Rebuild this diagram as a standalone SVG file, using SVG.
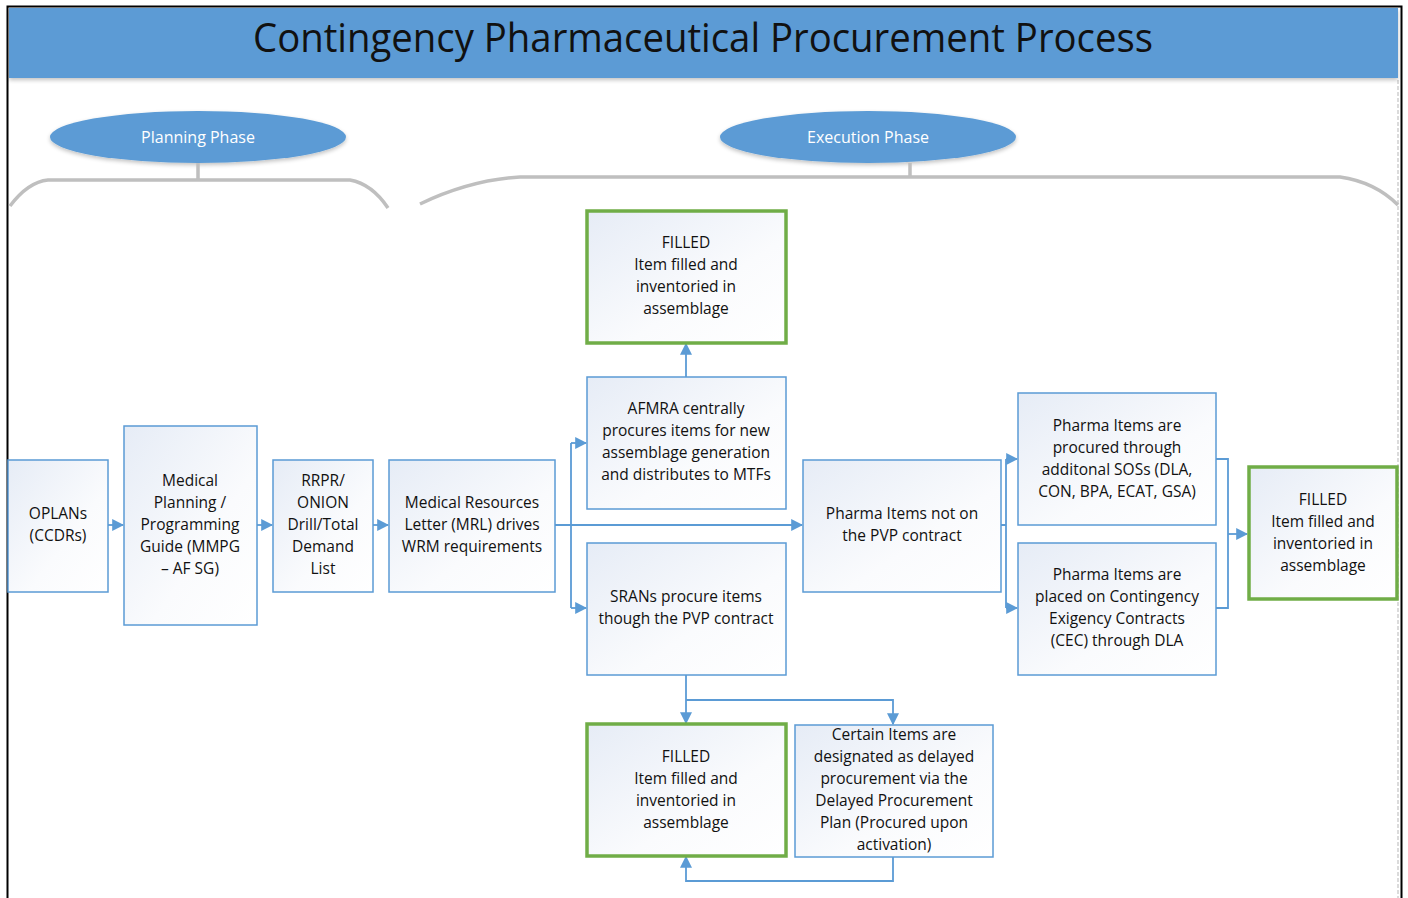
<svg xmlns="http://www.w3.org/2000/svg" width="1408" height="898" viewBox="0 0 1408 898">
<style>
text{font-family:"Open Sans","Liberation Sans",sans-serif;font-size:15.5px;fill:#111;text-anchor:middle}
.box{fill:url(#g);stroke:#5B9BD5;stroke-width:1.5}
.fill{fill:url(#g);stroke:#70AD47;stroke-width:3.5}
.c{fill:none;stroke:#5B9BD5;stroke-width:1.8}
.ca{fill:none;stroke:#5B9BD5;stroke-width:1.8;marker-end:url(#ah)}
.br{fill:none;stroke:#BFBFBF;stroke-width:3.5}
.ph{fill:#5B9BD5}
.pt{fill:#fff;font-size:16px}
</style>
<defs>
<linearGradient id="g" x1="0" y1="0" x2="1" y2="1">
<stop offset="0" stop-color="#E6ECF6"/>
<stop offset="0.6" stop-color="#FAFBFD"/>
<stop offset="1" stop-color="#FFFFFF"/>
</linearGradient>
<marker id="ah" viewBox="0 0 10 10" refX="9" refY="5" markerWidth="12" markerHeight="12" markerUnits="userSpaceOnUse" orient="auto">
<path d="M0,0 L10,5 L0,10 z" fill="#5B9BD5"/>
</marker>
<filter id="sh" x="-5%" y="-20%" width="110%" height="150%">
<feGaussianBlur in="SourceAlpha" stdDeviation="2"/>
<feOffset dy="2"/>
<feComponentTransfer><feFuncA type="linear" slope="0.25"/></feComponentTransfer>
<feMerge><feMergeNode/><feMergeNode in="SourceGraphic"/></feMerge>
</filter>
</defs>
<rect x="0" y="0" width="1408" height="898" fill="#fff"/>
<g id="frame">
<line x1="1398" y1="80" x2="1398" y2="898" stroke="#D0D0D0" stroke-width="1.5" stroke-dasharray="4,2"/>
<path d="M7.5,898 V6.5 H1401.5 V898" fill="none" stroke="#000" stroke-width="2"/>
</g>
<g id="title">
<rect x="9" y="8" width="1389" height="70" fill="#5B9BD5" filter="url(#sh)"/>
<text x="703" y="52" style="font-size:40px;fill:#111" textLength="900" lengthAdjust="spacingAndGlyphs">Contingency Pharmaceutical Procurement Process</text>
</g>
<g id="planning-phase">
<ellipse cx="198" cy="137" rx="148" ry="26" class="ph" filter="url(#sh)"/>
<text x="198" y="143" class="pt">Planning Phase</text>
<path class="br" d="M198,163 V180 M10,206 Q28,182 48,180 H350 Q372,184 388,208"/>
</g>
<g id="execution-phase">
<ellipse cx="868" cy="137" rx="148" ry="26" class="ph" filter="url(#sh)"/>
<text x="868" y="143" class="pt">Execution Phase</text>
<path class="br" d="M910,163 V177 M420,204 Q470,180 520,177 H1340 Q1375,182 1398,205"/>
</g>
<g id="connectors">
<line class="ca" x1="108" y1="525" x2="123" y2="525"/>
<line class="ca" x1="257" y1="525" x2="272" y2="525"/>
<line class="ca" x1="373" y1="525" x2="388" y2="525"/>
<path class="c" d="M555,525 H571 M571,443 V608"/>
<path class="ca" d="M571,443 H586"/>
<path class="ca" d="M571,608 H586"/>
<path class="ca" d="M571,525 H802"/>
<path class="ca" d="M686,377 V344"/>
<path class="ca" d="M686,675 V723"/>
<path class="ca" d="M686,700 H893 V724"/>
<path class="ca" d="M893,857 V881 H686 V857"/>
<path class="c" d="M1001,525 H1006 M1006,459 V608"/>
<path class="ca" d="M1006,459 H1017"/>
<path class="ca" d="M1006,608 H1017"/>
<path class="c" d="M1216,459 H1228 V608 H1216"/>
<path class="ca" d="M1228,534 H1247"/>
</g>
<g id="oplans">
<rect class="box" x="8" y="460" width="100" height="132"/>
<text x="58" y="519">OPLANs</text>
<text x="58" y="541">(CCDRs)</text>
</g>
<g id="mmpg">
<rect class="box" x="124" y="426" width="133" height="199"/>
<text x="190" y="486">Medical</text>
<text x="190" y="508">Planning /</text>
<text x="190" y="530">Programming</text>
<text x="190" y="552">Guide (MMPG</text>
<text x="190" y="574">– AF SG)</text>
</g>
<g id="rrpr">
<rect class="box" x="273" y="460" width="100" height="132"/>
<text x="323" y="486">RRPR/</text>
<text x="323" y="508">ONION</text>
<text x="323" y="530">Drill/Total</text>
<text x="323" y="552">Demand</text>
<text x="323" y="574">List</text>
</g>
<g id="mrl">
<rect class="box" x="389" y="460" width="166" height="132"/>
<text x="472" y="508">Medical Resources</text>
<text x="472" y="530">Letter (MRL) drives</text>
<text x="472" y="552">WRM requirements</text>
</g>
<g id="filled-top">
<rect class="fill" x="587" y="211" width="199" height="132"/>
<text x="686" y="248">FILLED</text>
<text x="686" y="270">Item filled and</text>
<text x="686" y="292">inventoried in</text>
<text x="686" y="314">assemblage</text>
</g>
<g id="afmra">
<rect class="box" x="587" y="377" width="199" height="132"/>
<text x="686" y="414">AFMRA centrally</text>
<text x="686" y="436">procures items for new</text>
<text x="686" y="458">assemblage generation</text>
<text x="686" y="480">and distributes to MTFs</text>
</g>
<g id="srans">
<rect class="box" x="587" y="543" width="199" height="132"/>
<text x="686" y="602">SRANs procure items</text>
<text x="686" y="624">though the PVP contract</text>
</g>
<g id="not-pvp">
<rect class="box" x="803" y="460" width="198" height="132"/>
<text x="902" y="519">Pharma Items not on</text>
<text x="902" y="541">the PVP contract</text>
</g>
<g id="sos">
<rect class="box" x="1018" y="393" width="198" height="132"/>
<text x="1117" y="431">Pharma Items are</text>
<text x="1117" y="453">procured through</text>
<text x="1117" y="475">additonal SOSs (DLA,</text>
<text x="1117" y="497">CON, BPA, ECAT, GSA)</text>
</g>
<g id="cec">
<rect class="box" x="1018" y="543" width="198" height="132"/>
<text x="1117" y="580">Pharma Items are</text>
<text x="1117" y="602">placed on Contingency</text>
<text x="1117" y="624">Exigency Contracts</text>
<text x="1117" y="646">(CEC) through DLA</text>
</g>
<g id="filled-right">
<rect class="fill" x="1249" y="467" width="148" height="132"/>
<text x="1323" y="505">FILLED</text>
<text x="1323" y="527">Item filled and</text>
<text x="1323" y="549">inventoried in</text>
<text x="1323" y="571">assemblage</text>
</g>
<g id="filled-bottom">
<rect class="fill" x="587" y="724" width="199" height="132"/>
<text x="686" y="762">FILLED</text>
<text x="686" y="784">Item filled and</text>
<text x="686" y="806">inventoried in</text>
<text x="686" y="828">assemblage</text>
</g>
<g id="delayed">
<rect class="box" x="795" y="725" width="198" height="132"/>
<text x="894" y="740">Certain Items are</text>
<text x="894" y="762">designated as delayed</text>
<text x="894" y="784">procurement via the</text>
<text x="894" y="806">Delayed Procurement</text>
<text x="894" y="828">Plan (Procured upon</text>
<text x="894" y="850">activation)</text>
</g>
</svg>
